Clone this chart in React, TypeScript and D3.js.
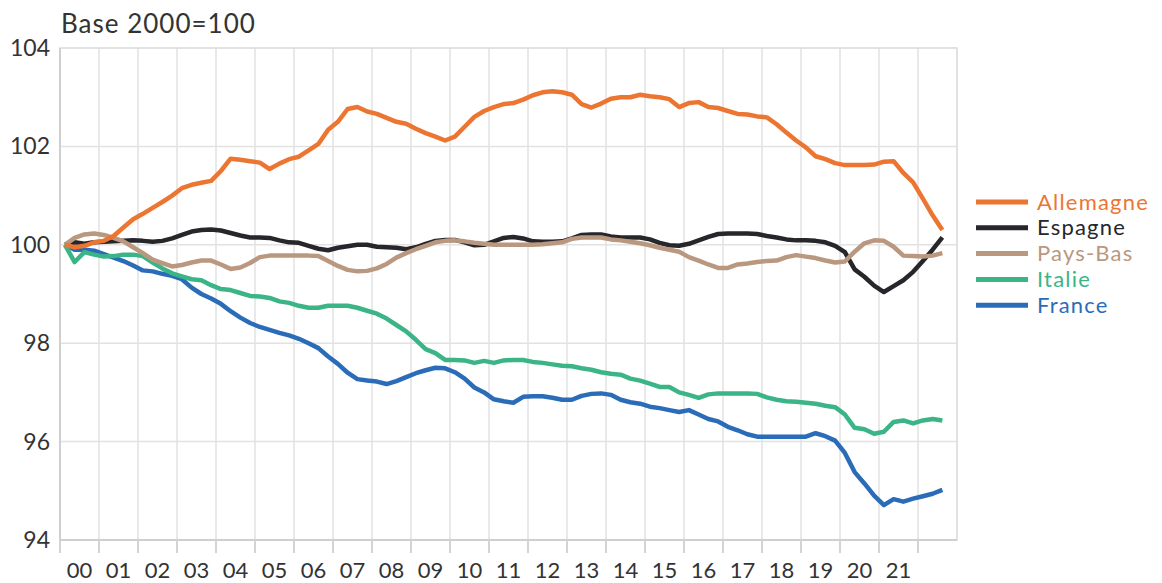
import React, { useEffect, useRef } from 'react';
import * as d3 from 'd3';

// quarterly values, 2000Q1 .. 2022Q3, base 2000 = 100
const allemagne = [
  100.0, 99.95, 99.98, 100.05, 100.08, 100.18, 100.35, 100.52, 100.63, 100.75,
  100.87, 101.0, 101.15, 101.22, 101.26, 101.3, 101.5, 101.75, 101.73, 101.7,
  101.67, 101.54, 101.65, 101.74, 101.79, 101.92, 102.05, 102.34, 102.5, 102.76,
  102.8, 102.71, 102.66, 102.58, 102.5, 102.46, 102.36, 102.27, 102.2, 102.12,
  102.2, 102.4, 102.6, 102.72, 102.8, 102.86, 102.88, 102.95, 103.04, 103.1,
  103.12, 103.1, 103.05, 102.86, 102.79, 102.87, 102.97, 103.0, 103.0, 103.05,
  103.02, 103.0, 102.96, 102.8, 102.88, 102.9, 102.8, 102.78, 102.72, 102.66,
  102.65, 102.61, 102.59, 102.45, 102.28, 102.12, 101.98, 101.8, 101.74, 101.66,
  101.62, 101.62, 101.62, 101.63, 101.69, 101.7, 101.46, 101.27, 100.94, 100.6, 100.3,
];
const espagne = [
  100.0, 100.05, 100.02, 100.05, 100.06, 100.07, 100.08, 100.09, 100.08, 100.06,
  100.08, 100.13, 100.2, 100.27, 100.3, 100.31, 100.29, 100.24, 100.19, 100.15,
  100.15, 100.14, 100.09, 100.05, 100.04, 99.98, 99.92, 99.89, 99.94, 99.97,
  100.0, 100.0, 99.96, 99.95, 99.94, 99.91, 99.95, 100.02, 100.08, 100.1,
  100.1, 100.05, 99.99, 100.0, 100.07, 100.14, 100.16, 100.13, 100.07, 100.06,
  100.06, 100.07, 100.13, 100.2, 100.21, 100.21, 100.17, 100.15, 100.15, 100.15,
  100.11, 100.04, 99.99, 99.98, 100.02, 100.09, 100.16, 100.22, 100.23, 100.23,
  100.23, 100.22, 100.18, 100.15, 100.11, 100.09, 100.09, 100.08, 100.05, 99.98,
  99.85, 99.5, 99.35, 99.17, 99.04, 99.16, 99.28, 99.45, 99.67, 99.9, 100.15,
];
const paysBas = [
  100.0, 100.14, 100.21, 100.23, 100.2, 100.14, 100.07, 99.95, 99.83, 99.7,
  99.63, 99.56, 99.59, 99.64, 99.68, 99.68, 99.6, 99.51, 99.54, 99.63,
  99.75, 99.78, 99.78, 99.78, 99.78, 99.78, 99.77, 99.67, 99.57, 99.49,
  99.46, 99.47, 99.52, 99.61, 99.74, 99.83, 99.91, 99.98, 100.05, 100.08,
  100.09, 100.07, 100.04, 100.02, 100.0, 100.0, 100.0, 100.0, 100.0, 100.01,
  100.03, 100.05, 100.12, 100.15, 100.15, 100.15, 100.11, 100.09, 100.06, 100.03,
  99.99, 99.94, 99.9, 99.86, 99.75, 99.68, 99.6, 99.53, 99.53, 99.6,
  99.62, 99.65, 99.67, 99.68, 99.75, 99.79, 99.76, 99.73, 99.68, 99.64,
  99.66, 99.86, 100.03, 100.09, 100.08, 99.96, 99.78, 99.77, 99.76, 99.78, 99.83,
];
const italie = [
  100.0, 99.65, 99.85, 99.8, 99.76, 99.77, 99.8, 99.8, 99.77, 99.64,
  99.52, 99.42, 99.36, 99.3, 99.28, 99.18, 99.1, 99.08, 99.02, 98.96,
  98.95, 98.92, 98.85, 98.82, 98.76, 98.72, 98.72, 98.76, 98.76, 98.76,
  98.72, 98.66, 98.6, 98.5, 98.37, 98.24, 98.07, 97.88, 97.8, 97.66,
  97.66, 97.65, 97.6, 97.64, 97.6, 97.65, 97.66, 97.66, 97.62, 97.6,
  97.57, 97.54, 97.53, 97.49, 97.46, 97.41, 97.38, 97.36, 97.28, 97.24,
  97.18, 97.11, 97.11, 97.0, 96.95, 96.89, 96.96, 96.98, 96.98, 96.98,
  96.98, 96.97, 96.9, 96.85, 96.82, 96.81, 96.79, 96.77, 96.73, 96.7,
  96.55, 96.28, 96.25, 96.16, 96.2, 96.4, 96.43, 96.37, 96.43, 96.46, 96.43,
];
const france = [
  100.0, 99.9, 99.9, 99.88, 99.81, 99.74, 99.67, 99.58, 99.48, 99.46,
  99.41, 99.37, 99.3, 99.13, 99.0, 98.91, 98.8, 98.65, 98.52, 98.41,
  98.33, 98.27, 98.21, 98.16, 98.09, 98.0, 97.9, 97.73, 97.58, 97.4,
  97.27, 97.24, 97.22, 97.17, 97.23, 97.31, 97.39, 97.45, 97.5, 97.49,
  97.41, 97.28, 97.1, 97.0, 96.86, 96.82, 96.79, 96.91, 96.92, 96.92,
  96.89, 96.85, 96.85, 96.93, 96.97, 96.98, 96.95, 96.85, 96.8, 96.77,
  96.71, 96.68, 96.64, 96.6, 96.64, 96.55, 96.46, 96.41, 96.3, 96.23,
  96.15, 96.1, 96.1, 96.1, 96.1, 96.1, 96.1, 96.17, 96.11, 96.02,
  95.77, 95.38, 95.15, 94.9, 94.71, 94.83, 94.78, 94.84, 94.89, 94.94, 95.02,
];

const yearLabels = ['00', '01', '02', '03', '04', '05', '06', '07', '08', '09', '10',
  '11', '12', '13', '14', '15', '16', '17', '18', '19', '20', '21'];
const yTicks = [94, 96, 98, 100, 102, 104];

const seriesNames = ['Allemagne', 'Espagne', 'Pays-Bas', 'Italie', 'France'];
const seriesValues = [allemagne, espagne, paysBas, italie, france];
const seriesColors = ['#ED7532', '#26262B', '#B9987F', '#3BB487', '#2B6CB8'];
// draw order: France first, Allemagne last
const drawOrder = [4, 3, 1, 2, 0];

const FONT = 'Lato, "Open Sans", sans-serif';

const App = () => {
  const svgRef = useRef<SVGSVGElement | null>(null);
  const width = 1162, height = 583;

  useEffect(() => {
    const svg = d3.select(svgRef.current);
    svg.selectAll('*').remove();

    const x = d3.scaleLinear().domain([2000, 2023]).range([60, 957]);
    const y = d3.scaleLinear().domain([94, 104]).range([540, 48]);

    const g = svg.append('g');

    // horizontal grid
    g.selectAll('.hgrid')
      .data(yTicks.filter(t => t > 94 && t < 104))
      .enter().append('line')
      .attr('x1', x(2000)).attr('x2', x(2023))
      .attr('y1', d => y(d)).attr('y2', d => y(d))
      .attr('stroke', '#e2e2e2').attr('stroke-width', 1.5);

    // vertical grid
    const years = d3.range(2001, 2023);
    g.selectAll('.vgrid')
      .data(years)
      .enter().append('line')
      .attr('x1', d => x(d)).attr('x2', d => x(d))
      .attr('y1', y(104)).attr('y2', y(94))
      .attr('stroke', '#e2e2e2').attr('stroke-width', 1.5);

    // frame
    g.append('rect')
      .attr('x', x(2000)).attr('y', y(104))
      .attr('width', x(2023) - x(2000)).attr('height', y(94) - y(104))
      .attr('fill', 'none').attr('stroke', '#d9d9d9').attr('stroke-width', 1.5);
    g.append('line')
      .attr('x1', x(2000)).attr('x2', x(2000)).attr('y1', y(104)).attr('y2', y(94))
      .attr('stroke', '#cfcfcf').attr('stroke-width', 2);
    g.append('line')
      .attr('x1', x(2000)).attr('x2', x(2023)).attr('y1', y(94)).attr('y2', y(94))
      .attr('stroke', '#cfcfcf').attr('stroke-width', 2);

    // x ticks below the axis
    g.selectAll('.xtick')
      .data(d3.range(2000, 2023))
      .enter().append('line')
      .attr('x1', d => x(d)).attr('x2', d => x(d))
      .attr('y1', y(94)).attr('y2', y(94) + 13)
      .attr('stroke', '#d4d4d4').attr('stroke-width', 2);

    // x labels centred in each year
    g.selectAll('.xlabel')
      .data(yearLabels)
      .enter().append('text')
      .attr('x', (d, i) => x(2000 + i + 0.5))
      .attr('y', 578)
      .attr('text-anchor', 'middle')
      .style('font-family', FONT)
      .style('font-size', '22px')
      .style('fill', '#333')
      .text(d => d);

    // y labels
    g.selectAll('.ylabel')
      .data(yTicks)
      .enter().append('text')
      .attr('x', 50)
      .attr('y', d => y(d) + 8)
      .attr('text-anchor', 'end')
      .style('font-family', FONT)
      .style('font-size', '23px')
      .style('fill', '#333')
      .text(d => d);

    // title
    g.append('text')
      .attr('x', 61).attr('y', 33)
      .style('font-family', FONT)
      .style('font-size', '26px')
      .style('letter-spacing', '1px')
      .style('fill', '#333')
      .text('Base 2000=100');

    // lines
    const line = d3.line<number>()
      .x((d, i) => x(2000 + i / 4 + 0.125))
      .y(d => y(d))
      .curve(d3.curveLinear);

    drawOrder.forEach(i => {
      g.append('path')
        .datum(seriesValues[i])
        .attr('fill', 'none')
        .attr('stroke', seriesColors[i])
        .attr('stroke-width', 4.5)
        .attr('stroke-linejoin', 'round')
        .attr('d', line);
    });

    // legend
    const legend = g.append('g').attr('transform', 'translate(976,202)');
    seriesNames.forEach((name, i) => {
      const row = legend.append('g').attr('transform', `translate(0,${i * 25.8})`);
      row.append('line')
        .attr('x1', 0).attr('x2', 52)
        .attr('y1', 0).attr('y2', 0)
        .attr('stroke', seriesColors[i])
        .attr('stroke-width', 5);
      row.append('text')
        .attr('x', 61).attr('y', 7.5)
        .style('font-family', FONT)
        .style('font-size', '22px')
        .style('letter-spacing', '1.2px')
        .style('fill', seriesColors[i])
        .text(name);
    });
  }, []);

  return (
    <svg ref={svgRef} width={width} height={height}
      style={{ position: 'absolute', left: 0, top: 0, background: '#fff' }} />
  );
};

export default App;
